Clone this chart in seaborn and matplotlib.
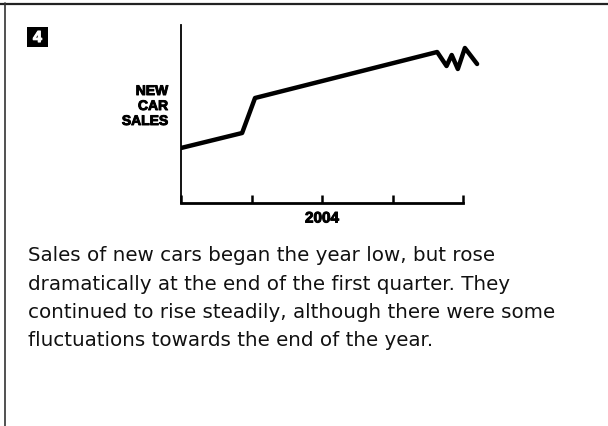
import matplotlib
matplotlib.use("Agg")
import matplotlib.pyplot as plt
import matplotlib.patheffects as pe
from matplotlib.lines import Line2D
from matplotlib.patches import Rectangle
import seaborn as sns
import pandas as pd

# data (month of year, sales in arbitrary units)
months = [0.0, 2.6, 3.15, 10.9, 11.3, 11.52, 11.78, 12.08, 12.6]
sales = [55, 70, 105, 151, 137, 148, 134, 155, 139]
quarter_ticks = [0, 3, 6, 9, 12]
year_label = "2004"
y_label_lines = ["NEW", "CAR", "SALES"]
panel_number = "4"
caption_lines = [
    "Sales of new cars began the year low, but rose",
    "dramatically at the end of the first quarter. They",
    "continued to rise steadily, although there were some",
    "fluctuations towards the end of the year.",
]

W, H = 608, 426
sns.set_theme(style="white")
plt.rcParams['font.family'] = ['DejaVu Sans']

fig = plt.figure(figsize=(W / 100, H / 100), dpi=100)

def fx(px):
    return px / W

def fy(py):
    return 1 - py / H

# axes in pixel layout: y axis at x=181, x axis at y=203
px_per_month = 23.5
x_max = 13
ax_left, ax_bottom, ax_top = 181, 203, 25
ax = fig.add_axes([fx(ax_left), fy(ax_bottom), x_max * px_per_month / W, (ax_bottom - ax_top) / H])

df = pd.DataFrame({"month": months, "sales": sales})
sns.lineplot(data=df, x="month", y="sales", ax=ax, color="black", linewidth=3.2,
             sort=False, estimator=None, solid_joinstyle="round", solid_capstyle="round")
ax.set_xlim(0, x_max)
ax.set_ylim(0, ax_bottom - ax_top)
ax.set_xlabel("")
ax.set_ylabel("")
ax.set_facecolor("white")
for s in ["top", "right"]:
    ax.spines[s].set_visible(False)
ax.spines["left"].set_color("black")
ax.spines["left"].set_linewidth(1.3)
ax.spines["bottom"].set_color("black")
ax.spines["bottom"].set_linewidth(2)
ax.spines["bottom"].set_bounds(0, 12)
ax.set_xticks(quarter_ticks)
ax.set_xticklabels([])
ax.set_yticks([])
ax.tick_params(axis="x", direction="in", length=6, width=1.8, color="black", bottom=True)

# axis labels, heavy look
heavy = [pe.withStroke(linewidth=0.7, foreground="black")]
lab_font = dict(family="Liberation Sans", weight="bold", size=10, color="black")
for i, word in enumerate(y_label_lines):
    fig.text(fx(168), fy(95 + i * 15), word, ha="right", va="baseline",
             path_effects=heavy, **lab_font)
fig.text(fx(322), fy(222.5), year_label, ha="center", va="baseline",
         path_effects=heavy, family="Liberation Sans", weight="bold", size=11, color="black")

# panel number box
fig.add_artist(Rectangle((fx(27), fy(47)), 21 / W, 20 / H, transform=fig.transFigure,
                         facecolor="black", edgecolor="none"))
fig.text(fx(37.5), fy(37.5), panel_number, ha="center", va="center", color="white",
         family="Liberation Sans", weight="bold", size=11.5,
         path_effects=[pe.withStroke(linewidth=0.8, foreground="white")])

# caption
for i, line in enumerate(caption_lines):
    fig.text(fx(28), fy(261 + i * 28.5), line, ha="left", va="baseline",
             color="#111111", size=14.3)

# page frame
fig.add_artist(Line2D([0, 1], [fy(3.5), fy(3.5)], transform=fig.transFigure, color="#222222", linewidth=1.6))
fig.add_artist(Line2D([fx(5), fx(5)], [0, fy(3)], transform=fig.transFigure, color="#333333", linewidth=1.2))

fig.savefig("out.png", dpi=100, facecolor="white")
